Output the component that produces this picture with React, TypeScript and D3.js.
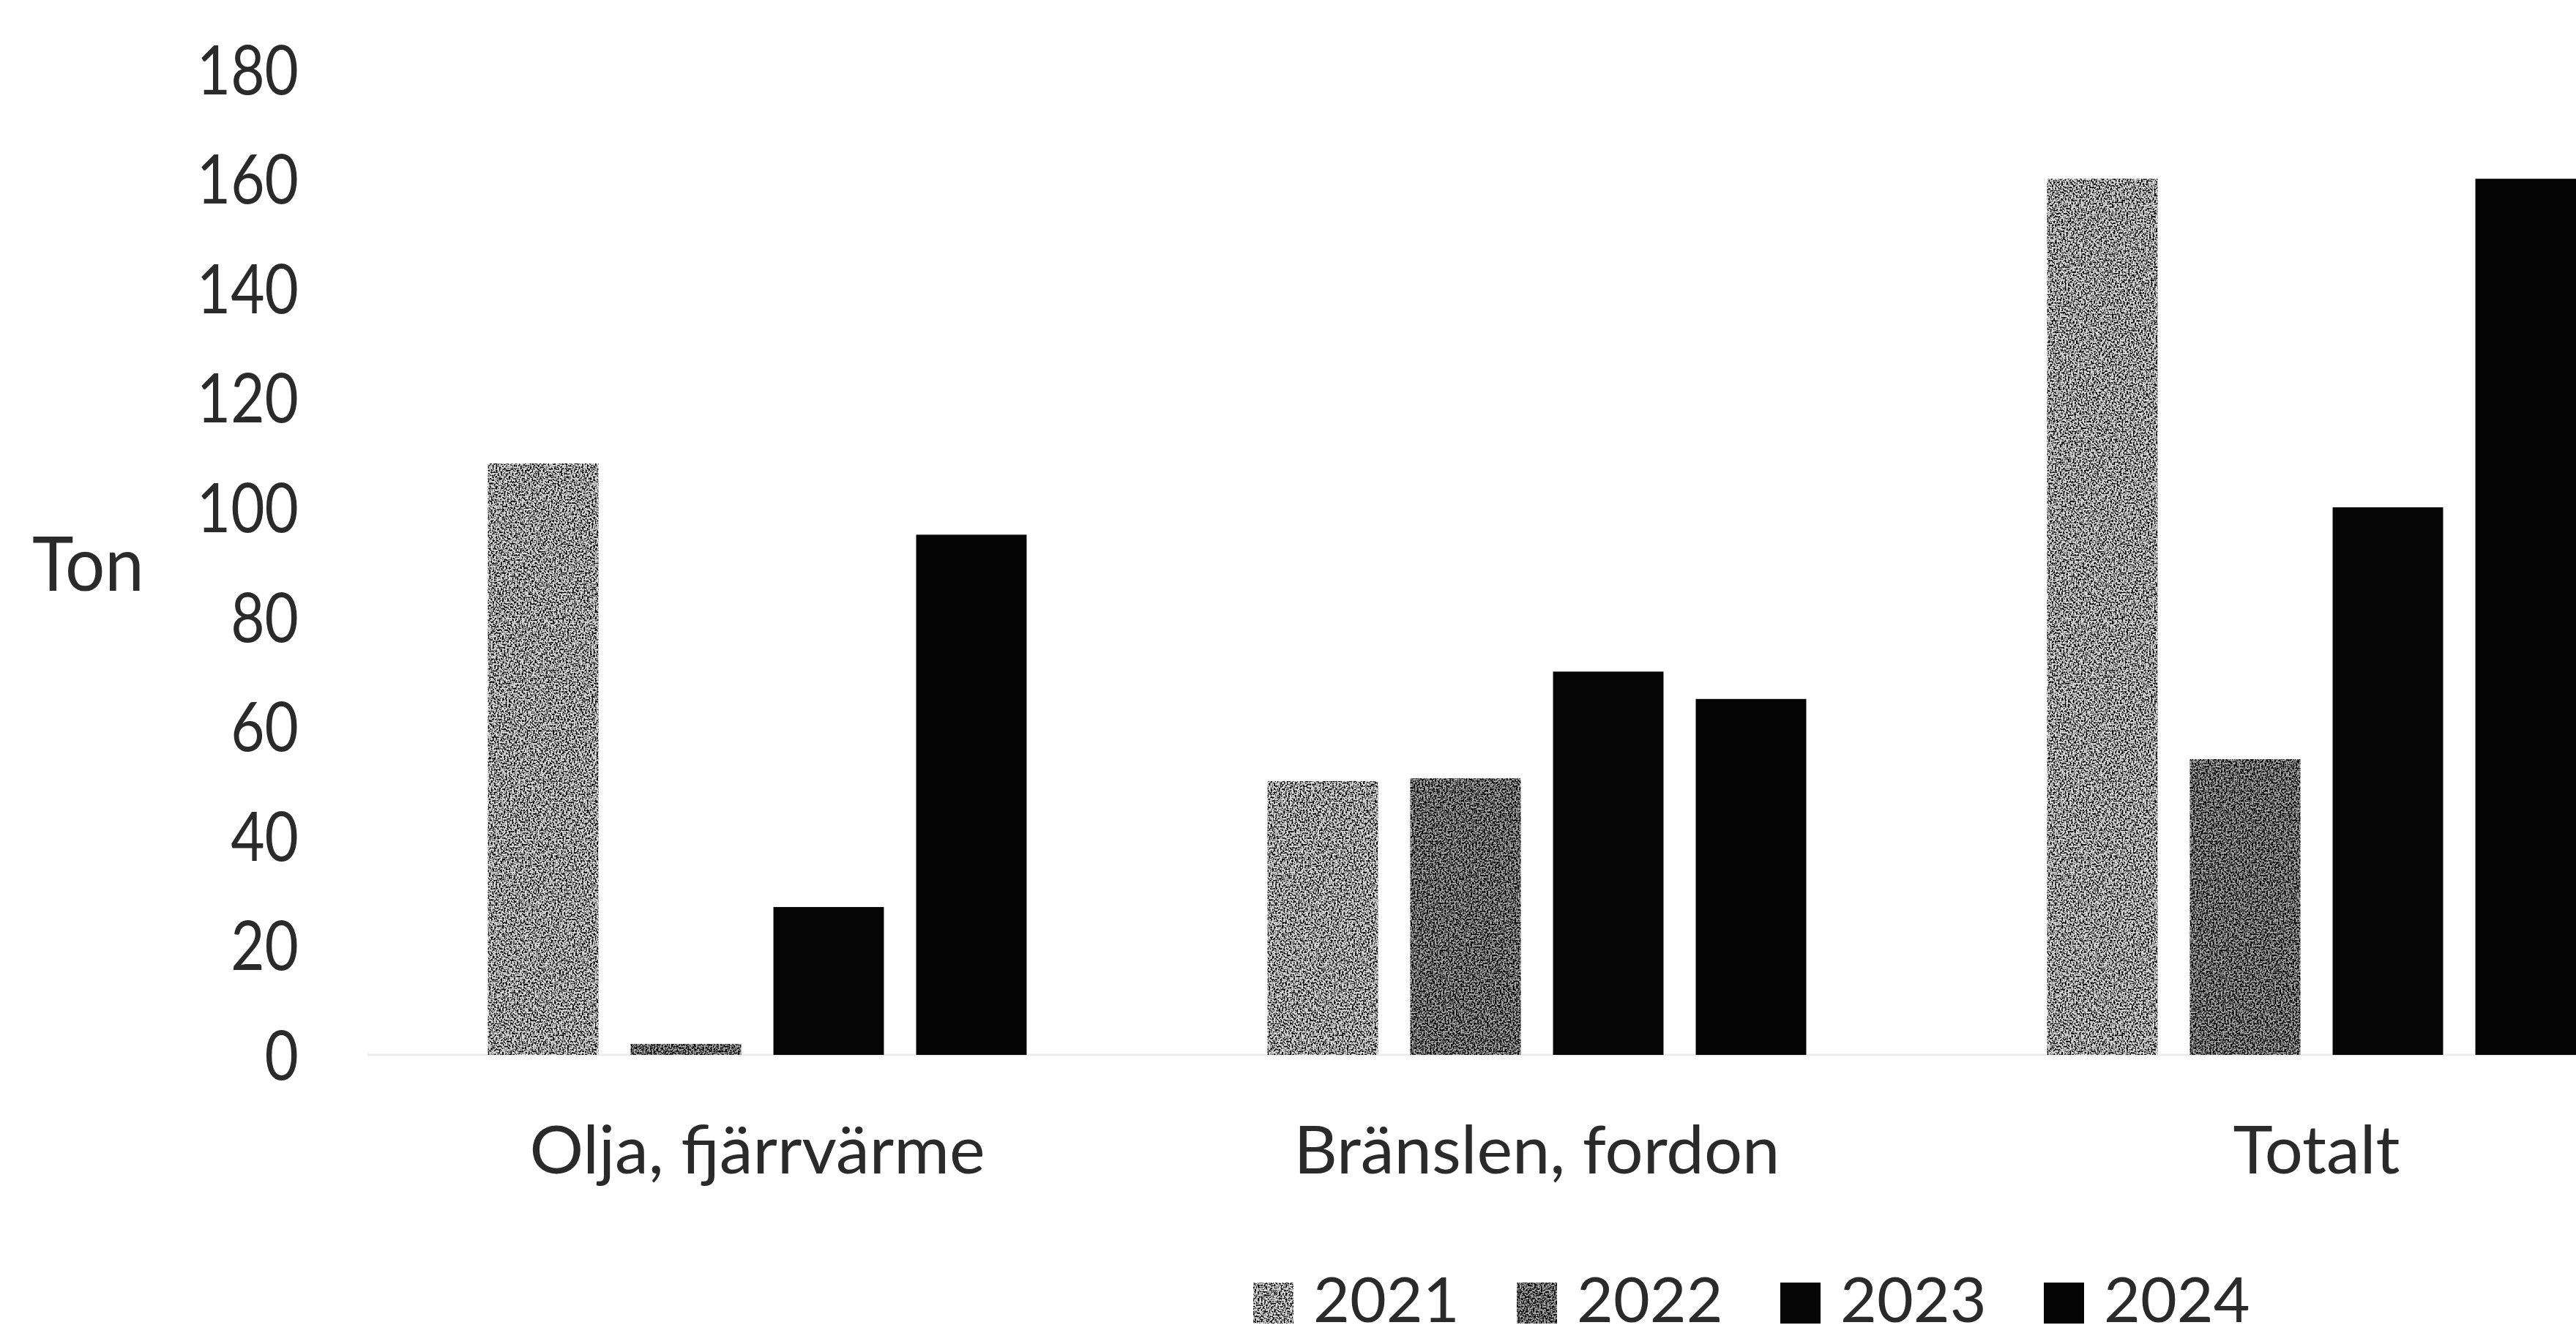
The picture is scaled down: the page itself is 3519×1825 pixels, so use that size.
import React from 'react';
import * as d3 from 'd3';

const categories = ['Olja, fjärrvärme', 'Bränslen, fordon', 'Totalt'];
const years = ['2021', '2022', '2023', '2024'];
const values2021 = [108, 50, 160];
const values2022 = [2, 50.5, 54];
const values2023 = [27, 70, 100];
const values2024 = [95, 65, 160];
const yTicks = [0, 20, 40, 60, 80, 100, 120, 140, 160, 180];
const yLabel = 'Ton';

const seriesValues = [values2021, values2022, values2023, values2024];
// base tone + speckle strength, to mimic the scanned dither
const baseFill = ['#dcdcdc', '#ababab', '#060606', '#040404'];
const speckle = [0.3, 0.45, 0, 0];

const W = 3519;
const H = 1825;
const FONT = 'Lato, "Noto Sans", sans-serif';
const TEXT = '#2a2a2a';

export default function App() {
  const x0 = d3.scaleBand<string>()
    .domain(categories)
    .range([502, 3697])
    .paddingInner(0.309)
    .paddingOuter(0.1545);

  const x1 = d3.scaleBand<string>()
    .domain(years)
    .range([0, x0.bandwidth()])
    .paddingInner(0.226)
    .paddingOuter(0);

  const y = d3.scaleLinear().domain([0, 180]).range([1441, 94.6]);

  const legendX = d3.scaleBand<string>().domain(years).range([1712, 3152]);

  return (
    <svg
      width={W}
      height={H}
      style={{ position: 'absolute', left: 0, top: 0, background: '#fff' }}
      fontFamily={FONT}
    >
      <defs>
        {speckle.map((s, i) =>
          s > 0 ? (
            <filter key={i} id={`speck${i}`} x="0" y="0" width="100%" height="100%">
              <feTurbulence type="fractalNoise" baseFrequency="0.45" numOctaves={2} seed={i + 3} result="noise" />
              <feColorMatrix
                in="noise"
                type="matrix"
                values={`0 0 0 0 0  0 0 0 0 0  0 0 0 0 0  5 0 0 0 ${(s - 2.5).toFixed(2)}`}
                result="dots"
              />
              <feComposite in="dots" in2="SourceGraphic" operator="in" />
            </filter>
          ) : null
        )}
      </defs>

      <rect width={W} height={H} fill="#fff" />

      {/* baseline, barely visible in the scan */}
      <line x1={x0.range()[0]} x2={W} y1={y(0)} y2={y(0)} stroke="#ececec" strokeWidth={3} />

      {yTicks.map(t => (
        <text
          key={t}
          transform={`translate(408,${y(t) + 34}) scale(0.86,1)`}
          textAnchor="end"
          fontSize={93}
          fill={TEXT}
        >
          {t}
        </text>
      ))}

      <text transform="translate(44,807) scale(0.94,1)" fontSize={102} fill={TEXT}>{yLabel}</text>

      {categories.map((c, ci) => (
        <g key={c} transform={`translate(${x0(c)},0)`}>
          {years.map((yr, si) => {
            const v = seriesValues[si][ci];
            const bx = x1(yr) as number;
            const by = y(v);
            const bw = x1.bandwidth();
            const bh = y(0) - y(v);
            return (
              <g key={yr}>
                <rect x={bx} y={by} width={bw} height={bh} fill={baseFill[si]} />
                {speckle[si] > 0 && (
                  <rect x={bx} y={by} width={bw} height={bh} fill="#000" filter={`url(#speck${si})`} />
                )}
              </g>
            );
          })}
          <text
            x={x0.bandwidth() / 2}
            y={1603}
            textAnchor="middle"
            fontSize={92}
            fill={TEXT}
          >
            {c}
          </text>
        </g>
      ))}

      {years.map((yr, si) => (
        <g key={yr} transform={`translate(${legendX(yr)},0)`}>
          <rect x={0} y={1752} width={55} height={56} fill={baseFill[si]} />
          {speckle[si] > 0 && (
            <rect x={0} y={1752} width={55} height={56} fill="#000" filter={`url(#speck${si})`} />
          )}
          <text x={82} y={1806} fontSize={86} fill={TEXT}>{yr}</text>
        </g>
      ))}
    </svg>
  );
}
